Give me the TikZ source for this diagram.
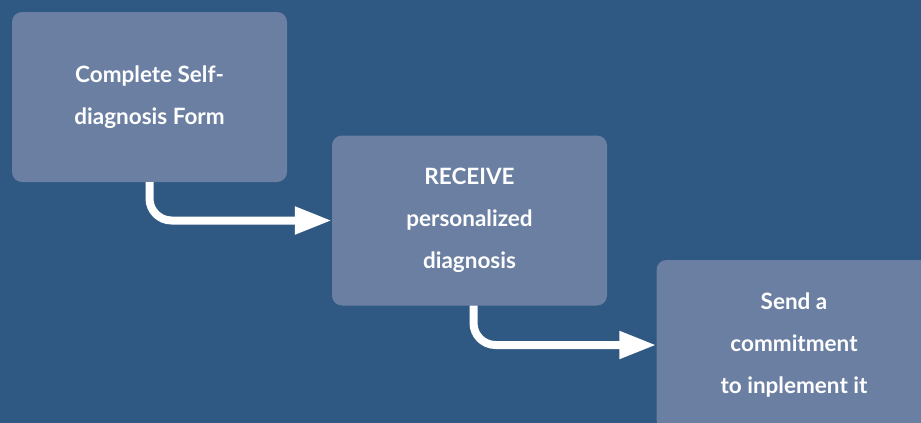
\documentclass[tikz,border=0pt]{standalone}
\usepackage{fontspec}
\setmainfont{Lato}
\usetikzlibrary{arrows.meta}

\definecolor{bgblue}{RGB}{47,89,130}
\definecolor{stepfill}{RGB}{107,127,163}

\begin{document}
\begin{tikzpicture}[x=1pt, y=-1pt,
    stepbox/.style={fill=stepfill, rounded corners=10pt, minimum width=275pt,
        minimum height=170pt, inner sep=0pt, text=white, align=center,
        font=\fontsize{22.5}{42}\selectfont\bfseries},
    flow/.style={draw=white, line width=8pt, rounded corners=22pt,
        -{Triangle[length=37pt, width=26pt]}}]

    % background
    \fill[bgblue] (0,0) rectangle (921,423);
    \useasboundingbox (0,0) rectangle (921,423);
    \clip (0,0) rectangle (921,423);

    % the three steps
    \node[stepbox] (form) at (149.5,97) {Complete Self-\\diagnosis Form};
    \node[stepbox] (receive) at (469.5,220.5) {RECEIVE\\personalized\\diagnosis};
    \node[stepbox] (commit) at (794,345) {Send a\\commitment\\to inplement it};

    % connectors
    \draw[flow] (form.south) |- (receive.west);
    \draw[flow] ([xshift=4pt]receive.south) |- (commit.west);
\end{tikzpicture}
\end{document}
